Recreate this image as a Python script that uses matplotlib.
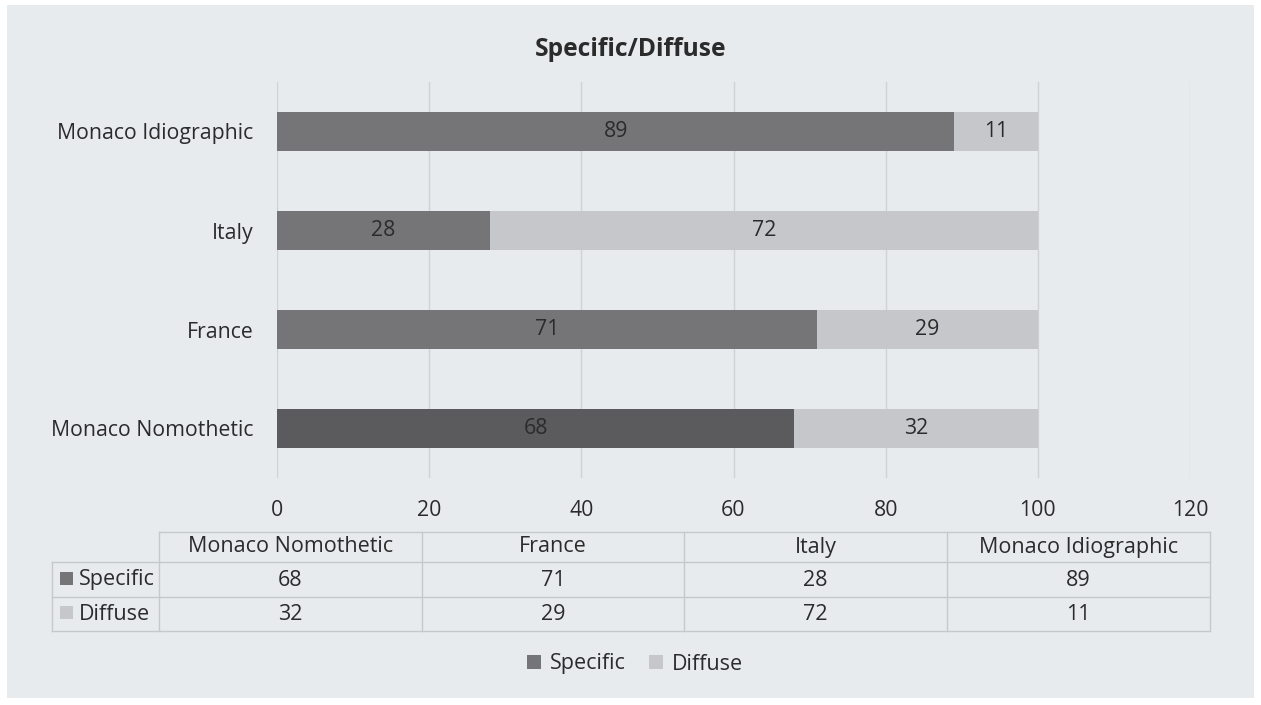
import matplotlib
matplotlib.use('Agg')
import matplotlib.pyplot as plt
from matplotlib.patches import Patch, Rectangle

# data
categories = ['Monaco Nomothetic', 'France', 'Italy', 'Monaco Idiographic']
specific = [68, 71, 28, 89]
diffuse = [32, 29, 72, 11]
xticks = [0, 20, 40, 60, 80, 100, 120]

plt.rcParams['font.family'] = ['Open Sans', 'DejaVu Sans']

bg = '#e8ebee'
c_spec = '#757578'
c_spec_dark = '#5b5b5d'
c_diff = '#c5c7ca'
c_text = '#2b2b2b'
c_grid = '#cfd2d5'
fs = 15.3

W, H = 1261, 705
fig = plt.figure(figsize=(W / 100, H / 100), dpi=100)
fig.patch.set_facecolor('white')

# panel behind everything + table drawing in pixel coords
over = fig.add_axes([0, 0, 1, 1], zorder=0)
over.set_xlim(0, W)
over.set_ylim(H, 0)
over.axis('off')
over.add_patch(Rectangle((7, 5), 1247, 693, facecolor=bg, edgecolor='none'))

ax = fig.add_axes([277 / W, 1 - 478 / H, (1190 - 277) / W, (478 - 82) / H], zorder=1)
ax.set_facecolor('none')

ypos = range(len(categories))
spec_colors = [c_spec_dark] + [c_spec] * (len(categories) - 1)
b1 = ax.barh(ypos, specific, height=0.4, color=spec_colors, zorder=2)
b2 = ax.barh(ypos, diffuse, left=specific, height=0.4, color=c_diff, zorder=2)
ax.bar_label(b1, label_type='center', fontsize=fs, color=c_text)
ax.bar_label(b2, label_type='center', fontsize=fs, color=c_text)

ax.set_xlim(0, 120)
ax.set_ylim(-0.5, 3.5)
ax.set_xticks(xticks)
ax.set_yticks(list(ypos))
ax.set_yticklabels(categories)
ax.tick_params(axis='x', length=0, pad=16, labelsize=fs, labelcolor=c_text)
ax.tick_params(axis='y', length=0, pad=17, labelsize=fs, labelcolor=c_text)
ax.xaxis.grid(True, color=c_grid, linewidth=1, zorder=0)
for s in ax.spines.values():
    s.set_visible(False)

fig.text(631 / W, 1 - 50 / H, 'Specific/Diffuse', ha='center', va='center',
         fontsize=17.7, fontweight='bold', color=c_text)

# data table under the chart
col_edges = [159, 422, 684, 947, 1210]
row_y = [532, 562, 597, 631]
lc = '#c6c9cc'
over.plot([col_edges[0], col_edges[-1]], [row_y[0]] * 2, color=lc, lw=1)
for y in row_y[1:]:
    over.plot([52, col_edges[-1]], [y, y], color=lc, lw=1)
over.plot([52, 52], [row_y[1], row_y[-1]], color=lc, lw=1)
for x in col_edges:
    over.plot([x, x], [row_y[0], row_y[-1]], color=lc, lw=1)

for i, name in enumerate(categories):
    cx = (col_edges[i] + col_edges[i + 1]) / 2
    over.text(cx, 547, name, ha='center', va='center', fontsize=15.5, color=c_text)
    over.text(cx, 580, str(specific[i]), ha='center', va='center', fontsize=15.5, color=c_text)
    over.text(cx, 614, str(diffuse[i]), ha='center', va='center', fontsize=15.5, color=c_text)

for (label, col, yc) in [('Specific', c_spec, 580), ('Diffuse', c_diff, 614)]:
    over.add_patch(Rectangle((60, yc - 8), 13, 13, facecolor=col, edgecolor='none'))
    over.text(79, yc, label, ha='left', va='center', fontsize=15.5, color=c_text)

handles = [Patch(facecolor=c_spec, label='Specific'), Patch(facecolor=c_diff, label='Diffuse')]
leg = fig.legend(handles=handles, loc='center', bbox_to_anchor=(635 / W, 1 - 664 / H),
                 ncol=2, frameon=False, fontsize=15.5, handlelength=0.65, handleheight=0.65,
                 handletextpad=0.4, columnspacing=1.1)
for t in leg.get_texts():
    t.set_color(c_text)

fig.savefig('out.png', dpi=100, facecolor=fig.get_facecolor())
